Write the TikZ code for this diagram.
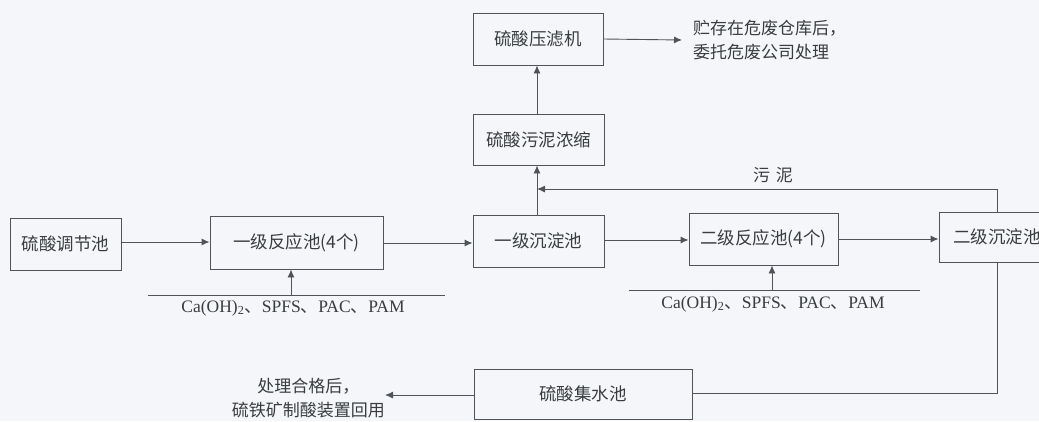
\documentclass[tikz,border=0pt]{standalone}
\usepackage{fontspec}
\setmainfont{Liberation Serif}
\newfontfamily\cjk{Noto Sans CJK SC}
\usetikzlibrary{arrows.meta}
\definecolor{bg}{HTML}{F4F6FA}
\definecolor{ln}{HTML}{505458}
\definecolor{tx}{HTML}{3A3D40}
\tikzset{
  box/.style={draw=ln, line width=0.9pt, fill=bg, inner sep=0pt, text=tx, font=\cjk\fontsize{17.5}{19}\selectfont},
  flow/.style={draw=ln, line width=0.9pt, -{Latex[length=8pt,width=7pt]}},
  wire/.style={draw=ln, line width=0.9pt},
  lbl/.style={text=tx, font=\cjk\fontsize{17}{24}\selectfont, inner sep=0pt},
  chem/.style={text=tx, font=\fontsize{17.5}{19}\selectfont, inner sep=0pt}
}
\begin{document}
\begin{tikzpicture}[x=1pt,y=-1pt]
\useasboundingbox (0,0) rectangle (1039,421);
\fill[bg] (0,0) rectangle (1039,421);
\clip (0,0) rectangle (1039,421);
% boxes
\node[box, minimum width=111pt, minimum height=52pt] (tj) at (65.5,244) {硫酸调节池};
\node[box, minimum width=173pt, minimum height=53pt] (r1) at (296.5,242.5) {一级反应池(4个)};
\node[box, minimum width=131pt, minimum height=52pt] (c1) at (538.5,241) {一级沉淀池};
\node[box, minimum width=149pt, minimum height=52pt] (r2) at (763.5,239) {二级反应池(4个)};
\node[box, minimum width=116pt, minimum height=50pt] (c2) at (997,237) {二级沉淀池};
\node[box, minimum width=131pt, minimum height=51pt] (ns) at (538.5,139.5) {硫酸污泥浓缩};
\node[box, minimum width=130pt, minimum height=52pt] (yl) at (538,39) {硫酸压滤机};
\node[box, minimum width=218pt, minimum height=50pt] (js) at (583,394) {硫酸集水池};
% texts
\node[lbl, anchor=west, align=left] (wf) at (693,40) {贮存在危废仓库后，\\委托危废公司处理};
\node[lbl, anchor=east, align=center] (hs) at (385,398) {处理合格后，\\硫铁矿制酸装置回用};
\node[lbl] (wn) at (773,175) {污\,\,泥};
\node[chem] (ch1) at (293,308) {Ca(OH)\textsubscript{2}{\cjk 、}SPFS{\cjk 、}PAC{\cjk 、}PAM};
\node[chem] (ch2) at (773,304) {Ca(OH)\textsubscript{2}{\cjk 、}SPFS{\cjk 、}PAC{\cjk 、}PAM};
% chemical feed lines
\coordinate (l1a) at (148,295); \coordinate (l1b) at (445,295); \coordinate (l1m) at (291,295);
\coordinate (l2a) at (629,290); \coordinate (l2b) at (920,290); \coordinate (l2m) at (772,290);
\draw[wire] (l1a) -- (l1b);
\draw[wire] (l2a) -- (l2b);
\draw[flow] (l1m) -- (l1m |- r1.south);
\draw[flow] (l2m) -- (l2m |- r2.south);
% main flow
\draw[flow] (tj.east |- 0,242) -- (r1.west |- 0,242);
\draw[flow] (r1.east |- 0,243) -- (c1.west |- 0,243);
\draw[flow] (c1.east |- 0,240) -- (r2.west |- 0,240);
\draw[flow] (r2.east |- 0,239) -- (c2.west |- 0,239);
\draw[flow] (c1.north -| 537,0) -- (ns.south -| 537,0);
\draw[flow] (ns.north -| 537,0) -- (yl.south -| 537,0);
\draw[flow] (yl.east) -- (wf.west -| 682,0);
% sludge return
\coordinate (sl) at (537,189);
\draw[flow] (c2.north) -- (997,189) -- (sl);
% water collection
\draw[wire] (c2.south) -- (997,393) -- (js.east |- 0,393);
\draw[flow] (js.west |- 0,395) -- (hs.east |- 0,395);
\end{tikzpicture}
\end{document}
